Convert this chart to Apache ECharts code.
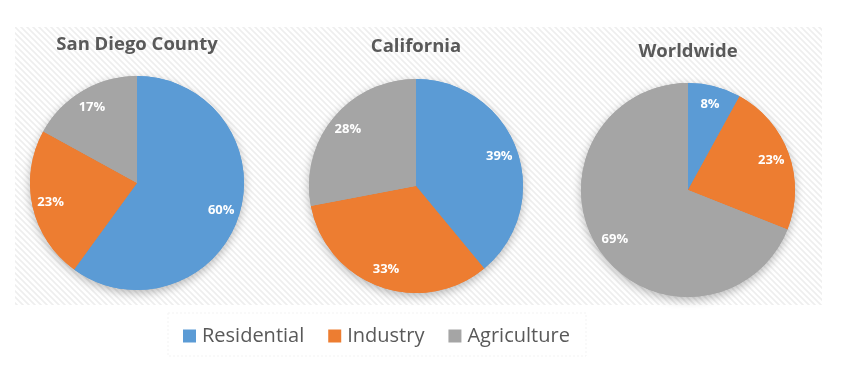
<!DOCTYPE html>
<html>
<head>
<meta charset="utf-8">
<script src="https://cdn.jsdelivr.net/npm/echarts@6/dist/echarts.min.js"></script>
<style>html,body{margin:0;padding:0;background:#fff}#c{width:845px;height:383px}</style>
</head>
<body>
<div id="c"></div>
<script>
var categories = ['Residential', 'Industry', 'Agriculture'];
var titles = ['San Diego County', 'California', 'Worldwide'];
var sanDiego = [60, 23, 17];
var california = [39, 33, 28];
var worldwide = [8, 23, 69];
var colors = ['#5B9BD5', '#ED7D31', '#A5A5A5'];

var datasets = [sanDiego, california, worldwide];
var centers = [[137, 183], [416, 186], [688, 190]];
var titleTops = [35, 37, 42];
var R = 107;

// hatch pattern for background panel
var pc = document.createElement('canvas');
pc.width = 6; pc.height = 6;
var g = pc.getContext('2d');
g.fillStyle = '#ffffff'; g.fillRect(0, 0, 6, 6);
g.strokeStyle = '#eeeeee'; g.lineWidth = 1.6;
g.beginPath();
g.moveTo(-1, -1); g.lineTo(7, 7);
g.moveTo(-7, -1); g.lineTo(1, 7);
g.moveTo(5, -1); g.lineTo(13, 7);
g.stroke();

function mk(vals) {
  return categories.map(function (n, i) { return { name: n, value: vals[i] }; });
}

var series = [];
datasets.forEach(function (vals, k) {
  series.push({
    type: 'pie', radius: R, center: centers[k], z: 1, silent: true,
    startAngle: 90, clockwise: true, label: { show: false }, labelLine: { show: false },
    itemStyle: { shadowBlur: 10, shadowColor: 'rgba(0,0,0,0.28)', shadowOffsetY: 3, borderWidth: 0 },
    emphasis: { disabled: true },
    data: mk(vals)
  });
  series.push({
    type: 'pie', radius: R, center: centers[k], z: 2,
    startAngle: 90, clockwise: true, label: { show: false }, labelLine: { show: false },
    itemStyle: { borderWidth: 0 },
    emphasis: { disabled: true },
    data: mk(vals)
  });
  series.push({
    type: 'pie', radius: [Math.round(R * 0.6), R], center: centers[k], z: 3, silent: true,
    startAngle: 90, clockwise: true,
    itemStyle: { color: 'rgba(0,0,0,0)', borderWidth: 0 },
    label: { show: true, position: 'inside', formatter: '{c}%', color: '#ffffff',
             fontFamily: 'Open Sans', fontWeight: 'bold', fontSize: 13 },
    labelLine: { show: false },
    emphasis: { disabled: true },
    legendHoverLink: false,
    data: mk(vals)
  });
});

var chart = echarts.init(document.getElementById('c'), null, { renderer: 'canvas' });
chart.setOption({
  animation: false,
  color: colors,
  backgroundColor: '#ffffff',
  graphic: [{
    type: 'rect', z: -10, silent: true,
    shape: { x: 15, y: 27, width: 807, height: 278 },
    style: { fill: { image: pc, repeat: 'repeat' } }
  }, {
    type: 'rect', z: -9, silent: true,
    shape: { x: 168, y: 313, width: 418, height: 43 },
    style: { fill: '#ffffff', stroke: '#f3f3f3', lineWidth: 1, lineDash: [2, 2] }
  }],
  title: titles.map(function (t, k) {
    return {
      text: t, left: centers[k][0], top: titleTops[k], textAlign: 'center', padding: 0,
      textStyle: { fontFamily: 'Open Sans', fontWeight: 'bold', fontSize: 18.5, color: '#595959' }
    };
  }),
  legend: {
    data: categories,
    left: 178, top: 321, itemWidth: 13, itemHeight: 13, itemGap: 24,
    icon: 'rect', selectedMode: false,
    textStyle: { fontFamily: 'Open Sans', fontSize: 20, color: '#595959', padding: [0, 0, 0, 1] }
  },
  series: series
});
</script>
</body>
</html>
